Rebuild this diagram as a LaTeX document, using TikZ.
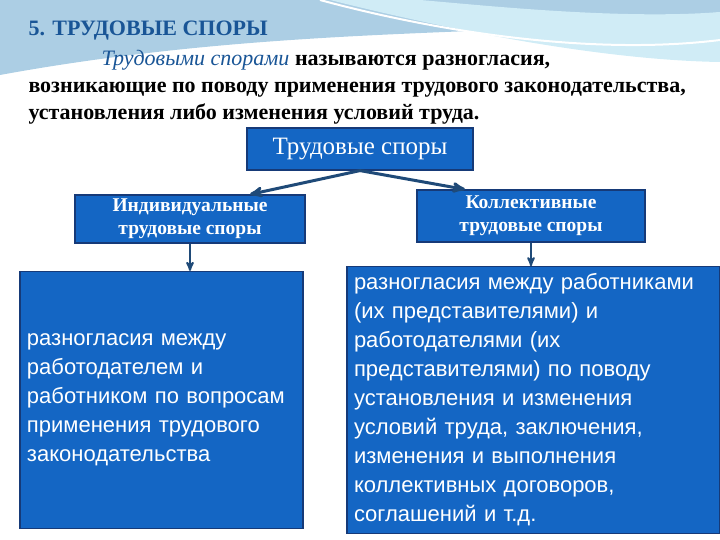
\documentclass[tikz,border=0pt]{standalone}
\usepackage{fontspec}
\setmainfont{Liberation Serif}
\newfontfamily\boxfont{Liberation Sans}
\usetikzlibrary{arrows,positioning}
\definecolor{boxblue}{RGB}{20,102,196}
\definecolor{edgeblue}{RGB}{22,58,120}
\definecolor{arrowblue}{RGB}{31,74,120}
\definecolor{titleblue}{RGB}{25,85,150}
\definecolor{skyblue}{RGB}{172,206,228}
\definecolor{paleblue}{RGB}{208,236,246}

\begin{document}
\begin{tikzpicture}[x=1pt,y=-1pt,>=stealth',line width=3pt,
        head node/.style={draw=edgeblue,line width=1.2pt,fill=boxblue,text=white,
          font=\bfseries\fontsize{19.5}{23}\selectfont,align=center,inner sep=0pt},
        text node/.style={draw=edgeblue,line width=1.2pt,fill=boxblue,text=white,
          font=\boxfont\fontsize{22}{29}\selectfont,align=left,inner sep=7pt},
        link/.style={->,draw=arrowblue,line width=3pt}]
  \useasboundingbox (0,0) rectangle (720,540);
  % background wave
  \fill[skyblue] (0,0) -- (720,0) -- (720,12) .. controls (560,40) and (300,20) .. (0,75) -- cycle;
  \fill[paleblue] (330,0) .. controls (450,30) and (600,60) .. (720,62) -- (720,12) .. controls (620,20) and (480,5) .. (420,0) -- cycle;
  \draw[white,line width=2pt] (320,0) .. controls (450,35) and (600,55) .. (720,40);
  % heading
  \node[anchor=west,text=titleblue,font=\bfseries\fontsize{22}{24}\selectfont,inner sep=0pt] (title) at (27,31) {5. ТРУДОВЫЕ СПОРЫ};
  \node[anchor=north west,align=left,inner sep=0pt,font=\bfseries\fontsize{22}{27}\selectfont] (intro) at (27,49)
    {\hspace*{73pt}{\mdseries\itshape\color{titleblue}Трудовыми спорами} называются разногласия,\\
     возникающие по поводу применения трудового законодательства,\\
     установления либо изменения условий труда.};
  % boxes
  \node[head node,minimum width=226,minimum height=42,font=\fontsize{25}{27}\selectfont] (spory) at (360,149) {Трудовые споры};
  \node[head node,minimum width=230,minimum height=48] (indiv) at (190,219) {Индивидуальные\\трудовые споры};
  \node[head node,minimum width=228,minimum height=52] (kollekt) at (531,216) {Коллективные\\трудовые споры};
  \node[text node,minimum width=283,minimum height=257,text width=269] (indivtext) at (161.5,400)
    {разногласия между\\работодателем и\\работником по вопросам\\применения трудового\\законодательства};
  \node[text node,minimum width=373,minimum height=260,text width=359] (kollekttext) at (533.5,400)
    {разногласия между работниками\\(их представителями) и\\работодателями (их\\представителями) по поводу\\установления и изменения\\условий труда, заключения,\\изменения и выполнения\\коллективных договоров,\\соглашений и т.д.};
  % arrows
  \draw[link] (spory.south) -- ([xshift=60pt]indiv.north);
  \draw[link] (spory.south) -- ([xshift=-66pt]kollekt.north);
  \draw[link,line width=2pt] (indiv.south) -- (indiv.south |- indivtext.north);
  \draw[link,line width=2pt] (kollekt.south) -- (kollekt.south |- kollekttext.north);
\end{tikzpicture}
\end{document}
